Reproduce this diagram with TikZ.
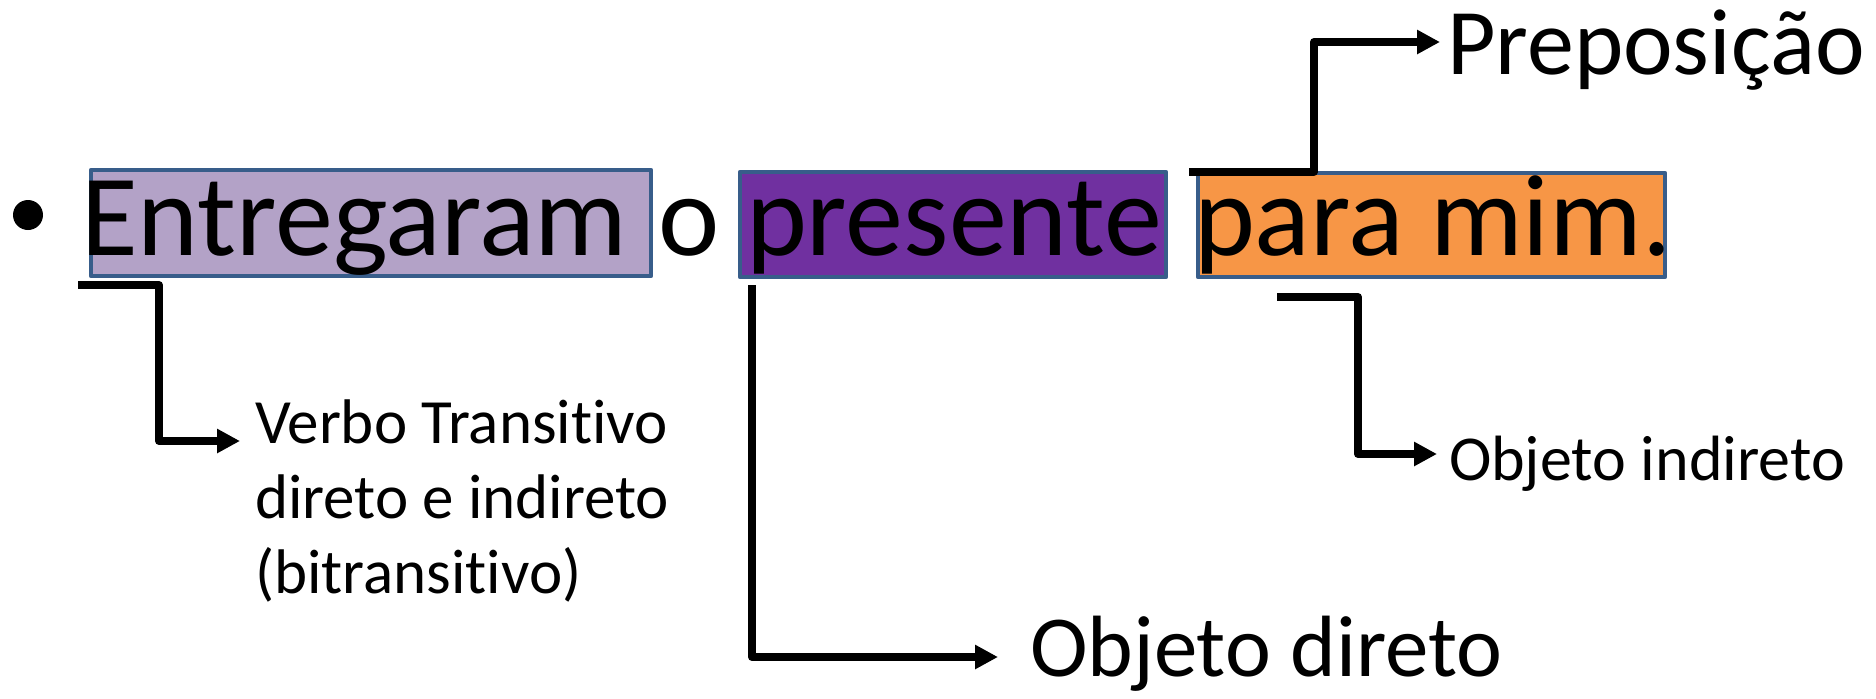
\documentclass[tikz,border=0pt]{standalone}
\usepackage{fontspec}
\setmainfont{Carlito}[Ligatures=NoCommon]
\usetikzlibrary{arrows.meta}
\definecolor{boxLilac}{RGB}{179,162,199}
\definecolor{boxPurple}{RGB}{112,48,160}
\definecolor{boxOrange}{RGB}{247,150,70}
\definecolor{boxEdge}{RGB}{56,93,138}

\begin{document}
\begin{tikzpicture}[x=0.5pt, y=-0.5pt]%
  \tikzset{conn/.style={draw, -{Triangle[length=11.5pt,width=11.5pt]}, line width=4pt, line join=round}}
  \tikzstyle{wordbox}=[draw=boxEdge, line width=2.2pt, line join=round]
  \tikzstyle{every node}=[inner sep=0pt, outer sep=0pt, text=black]
  \tikzstyle{word}=[anchor=base west, font=\fontsize{58}{70}\selectfont]
  \tikzstyle{small label}=[anchor=base west, align=left, font=\fontsize{31.5}{37.5}\selectfont]

  \fill[white] (0,0) rectangle (1876,698);

  % coloured boxes behind the words
  \filldraw[wordbox, fill=boxLilac]  (91,170) rectangle (651,276);
  \filldraw[wordbox, fill=boxPurple] (740,172) rectangle (1166,277);
  \filldraw[wordbox, fill=boxOrange] (1198,173) rectangle (1665,277);

  \node[circle, fill=black, minimum size=15pt] (bullet) at (28,215) {};
  \node[word] (verbo) at (81,255) {Entregaram};
  \node[word] (artigo) at (658,255) {o};
  \node[word] (presente) at (746,255) {presente};
  \node[word] (paramim) at (1194,255) {para mim.};

  \node[anchor=base west, font=\fontsize{47}{56}\selectfont] (prep) at (1447,74) {Preposição};
  \node[anchor=base west, font=\fontsize{43.5}{52}\selectfont] (objdir) at (1030,676) {Objeto direto};
  \node[small label, font=\fontsize{32}{38}\selectfont] (objind) at (1449,480) {Objeto indireto};
  % base of a multi-line node sits on its last line
  \node[small label] (vtd) at (255,593) {Verbo Transitivo\\direto e indireto\\(bitransitivo)};

  \coordinate (p0) at (1189,171.5);
  \coordinate (pknee) at (1314,42);
  \coordinate (v0) at (78,285);
  \coordinate (vknee) at (159,441);
  \coordinate (od0) at (752,285);
  \coordinate (oi0) at (1277,297);
  \coordinate (oiknee) at (1358,454);

  \path[conn] (p0) -| (pknee) -- ([shift={(-7,-32)}]prep.base west);
  \path[conn] (v0) -| (vknee) |- ([shift={(-15,-152)}]vtd.base west);
  \path[conn] (od0) |- ([shift={(-32,-19)}]objdir.base west);
  \path[conn] (oi0) -| (oiknee) |- ([shift={(-12,-26)}]objind.base west);

  \useasboundingbox (0,0) rectangle (1876,698);
\end{tikzpicture}
\end{document}
